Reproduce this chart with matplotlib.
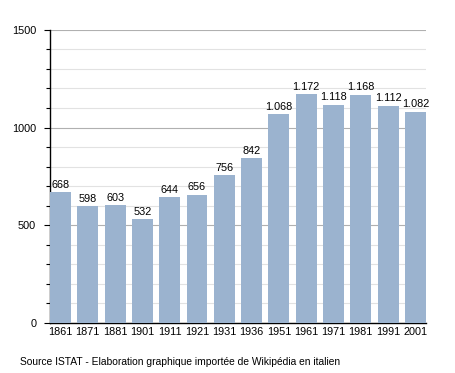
import matplotlib.pyplot as plt
import numpy as np
from matplotlib.ticker import MultipleLocator

plt.rcParams["font.family"] = ["Liberation Sans", "DejaVu Sans"]

years = ["1861", "1871", "1881", "1901", "1911", "1921", "1931",
         "1936", "1951", "1961", "1971", "1981", "1991", "2001"]
population = [668, 598, 603, 532, 644, 656, 756, 842, 1068, 1172, 1118, 1168, 1112, 1082]

def fmt(v):
    # italian thousands separator
    return "{:,}".format(v).replace(",", ".")

fig = plt.figure(figsize=(4.55, 3.73), dpi=100)
ax = fig.add_axes([0.11, 0.134, 0.826, 0.786])

x = np.arange(len(years))
w = 0.766
bars = ax.bar(x, population, width=w, color="#9bb3cf", zorder=3)
for xi, v in zip(x, population):
    ax.text(xi, v + 12, fmt(v), ha="center", va="bottom", fontsize=7.8, color="black", zorder=4)

ax.set_xlim(-w / 2, len(years) - 1 + w / 2)
ax.set_ylim(0, 1500)
ax.yaxis.set_major_locator(MultipleLocator(500))
ax.yaxis.set_minor_locator(MultipleLocator(100))
ax.grid(axis="y", which="major", color="#b0b0b0", linewidth=0.8, zorder=0)
ax.grid(axis="y", which="minor", color="#e2e2e2", linewidth=0.8, zorder=0)

ax.set_xticks(x)
ax.set_xticklabels(years, fontsize=7.8)
ax.tick_params(axis="x", length=0, pad=3)
ax.tick_params(axis="y", which="major", length=4, width=0.8, labelsize=7.8, pad=6)
ax.tick_params(axis="y", which="minor", length=3, width=0.8)

for s in ["top", "right"]:
    ax.spines[s].set_visible(False)
ax.spines["left"].set_linewidth(1.0)
ax.spines["bottom"].set_linewidth(1.0)

fig.text(20 / 455, 1 - 362 / 373, "Source ISTAT - Elaboration graphique importée de Wikipédia en italien",
         fontsize=7.4, ha="left", va="center")

fig.savefig("out.png", dpi=100)
